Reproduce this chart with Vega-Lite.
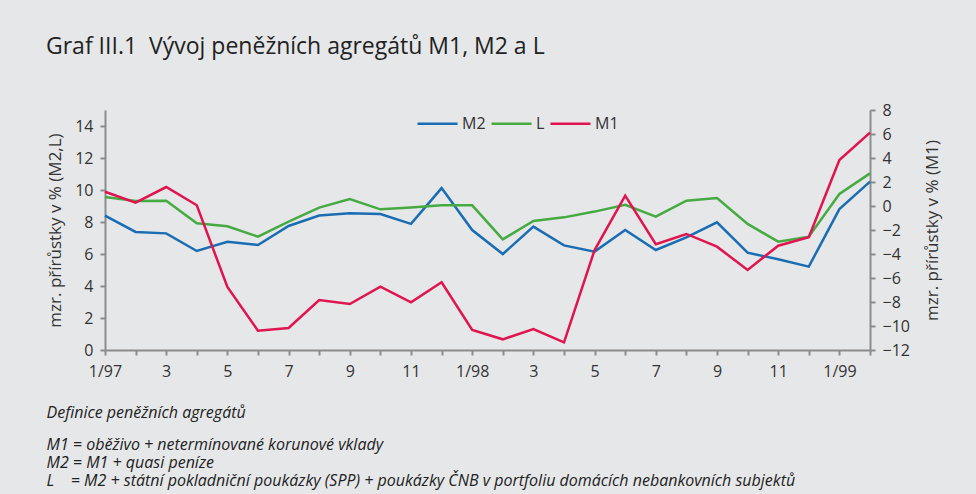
{
  "$schema": "https://vega.github.io/schema/vega-lite/v6.json",
  "width": 765,
  "height": 240,
  "autosize": "none",
  "padding": {"left": 105, "top": 110, "right": 106, "bottom": 144},
  "background": "#e6e7e9",
  "title": {
    "text": "Graf III.1\u00a0\u00a0Vývoj peněžních agregátů M1, M2 a L",
    "anchor": "start",
    "frame": "group",
    "dx": -59,
    "offset": 25,
    "baseline": "alphabetic",
    "fontSize": 23,
    "font": "Open Sans",
    "fontWeight": "normal",
    "color": "#222222"
  },
  "datasets": {
    "m2l": [
      {"i": 0, "series": "M2", "value": 8.4}, {"i": 1, "series": "M2", "value": 7.38}, {"i": 2, "series": "M2", "value": 7.29}, {"i": 3, "series": "M2", "value": 6.19},
      {"i": 4, "series": "M2", "value": 6.77}, {"i": 5, "series": "M2", "value": 6.56}, {"i": 6, "series": "M2", "value": 7.75}, {"i": 7, "series": "M2", "value": 8.4},
      {"i": 8, "series": "M2", "value": 8.54}, {"i": 9, "series": "M2", "value": 8.5}, {"i": 10, "series": "M2", "value": 7.88}, {"i": 11, "series": "M2", "value": 10.12},
      {"i": 12, "series": "M2", "value": 7.5}, {"i": 13, "series": "M2", "value": 6.0}, {"i": 14, "series": "M2", "value": 7.71}, {"i": 15, "series": "M2", "value": 6.54},
      {"i": 16, "series": "M2", "value": 6.15}, {"i": 17, "series": "M2", "value": 7.5}, {"i": 18, "series": "M2", "value": 6.25}, {"i": 19, "series": "M2", "value": 7.04},
      {"i": 20, "series": "M2", "value": 7.98}, {"i": 21, "series": "M2", "value": 6.08}, {"i": 22, "series": "M2", "value": 5.67}, {"i": 23, "series": "M2", "value": 5.21},
      {"i": 24, "series": "M2", "value": 8.81}, {"i": 25, "series": "M2", "value": 10.52},
      {"i": 0, "series": "L", "value": 9.56}, {"i": 1, "series": "L", "value": 9.31}, {"i": 2, "series": "L", "value": 9.33}, {"i": 3, "series": "L", "value": 7.92},
      {"i": 4, "series": "L", "value": 7.73}, {"i": 5, "series": "L", "value": 7.08}, {"i": 6, "series": "L", "value": 8.02}, {"i": 7, "series": "L", "value": 8.9},
      {"i": 8, "series": "L", "value": 9.44}, {"i": 9, "series": "L", "value": 8.79}, {"i": 10, "series": "L", "value": 8.9}, {"i": 11, "series": "L", "value": 9.04},
      {"i": 12, "series": "L", "value": 9.04}, {"i": 13, "series": "L", "value": 6.92}, {"i": 14, "series": "L", "value": 8.06}, {"i": 15, "series": "L", "value": 8.29},
      {"i": 16, "series": "L", "value": 8.65}, {"i": 17, "series": "L", "value": 9.08}, {"i": 18, "series": "L", "value": 8.33}, {"i": 19, "series": "L", "value": 9.33},
      {"i": 20, "series": "L", "value": 9.5}, {"i": 21, "series": "L", "value": 7.88}, {"i": 22, "series": "L", "value": 6.77}, {"i": 23, "series": "L", "value": 7.08},
      {"i": 24, "series": "L", "value": 9.75}, {"i": 25, "series": "L", "value": 11.04}
    ],
    "m1": [
      {"i": 0, "series": "M1", "value": 1.19}, {"i": 1, "series": "M1", "value": 0.28}, {"i": 2, "series": "M1", "value": 1.58}, {"i": 3, "series": "M1", "value": 0.06},
      {"i": 4, "series": "M1", "value": -6.75}, {"i": 5, "series": "M1", "value": -10.39}, {"i": 6, "series": "M1", "value": -10.17}, {"i": 7, "series": "M1", "value": -7.83},
      {"i": 8, "series": "M1", "value": -8.17}, {"i": 9, "series": "M1", "value": -6.72}, {"i": 10, "series": "M1", "value": -8.03}, {"i": 11, "series": "M1", "value": -6.36},
      {"i": 12, "series": "M1", "value": -10.33}, {"i": 13, "series": "M1", "value": -11.11}, {"i": 14, "series": "M1", "value": -10.25}, {"i": 15, "series": "M1", "value": -11.36},
      {"i": 16, "series": "M1", "value": -3.67}, {"i": 17, "series": "M1", "value": 0.86}, {"i": 18, "series": "M1", "value": -3.19}, {"i": 19, "series": "M1", "value": -2.33},
      {"i": 20, "series": "M1", "value": -3.39}, {"i": 21, "series": "M1", "value": -5.33}, {"i": 22, "series": "M1", "value": -3.31}, {"i": 23, "series": "M1", "value": -2.61},
      {"i": 24, "series": "M1", "value": 3.83}, {"i": 25, "series": "M1", "value": 6.11}
    ]
  },
  "config": {
    "view": {"stroke": null},
    "font": "Open Sans",
    "axis": {
      "domainColor": "#8c8c8c",
      "domainWidth": 2,
      "tickColor": "#8c8c8c",
      "tickWidth": 2,
      "tickSize": 5,
      "grid": false,
      "labelFont": "Open Sans",
      "labelFontSize": 16,
      "labelColor": "#333333",
      "labelPadding": 7,
      "titleFont": "Open Sans",
      "titleFontSize": 17,
      "titleFontWeight": "normal",
      "titleColor": "#333333"
    }
  },
  "encoding": {
    "color": {
      "field": "series",
      "type": "nominal",
      "scale": {"domain": ["M2", "L", "M1"], "range": ["#1a6db3", "#46aa42", "#e0144f"]},
      "legend": {
        "title": null,
        "orient": "none",
        "direction": "horizontal",
        "legendX": 311,
        "legendY": -8,
        "symbolType": "stroke",
        "symbolSize": 1600,
        "symbolStrokeWidth": 2.5,
        "labelFontSize": 16,
        "labelFont": "Open Sans",
        "labelColor": "#333333",
        "labelOffset": 3,
        "columnPadding": 0
      }
    }
  },
  "layer": [
    {
      "data": {"name": "m2l"},
      "mark": {"type": "line", "strokeWidth": 2.5},
      "encoding": {
        "x": {
          "field": "i",
          "type": "quantitative",
          "scale": {"domain": [0, 25], "nice": false, "zero": false},
          "axis": {
            "values": [0,1,2,3,4,5,6,7,8,9,10,11,12,13,14,15,16,17,18,19,20,21,22,23,24,25],
            "labelExpr": "['1/97','','3','','5','','7','','9','','11','','1/98','','3','','5','','7','','9','','11','','1/99',''][datum.value]",
            "labelFlush": false,
            "labelOverlap": false,
            "labelPadding": 8,
            "title": ["M1 = oběživo + netermínované korunové vklady", "M2 = M1 + quasi peníze", "L\u00a0\u00a0\u00a0\u00a0= M2 + státní pokladniční poukázky (SPP) + poukázky ČNB v portfoliu domácích nebankovních subjektů"],
            "titleAnchor": "start",
            "titleAlign": "left",
            "titleBaseline": "alphabetic",
            "titleX": -59,
            "titleY": 99,
            "titleFontSize": 16,
            "titleFontStyle": "italic",
            "titleLineHeight": 18,
            "titleColor": "#222222"
          }
        },
        "y": {
          "field": "value",
          "type": "quantitative",
          "scale": {"domain": [0, 15], "nice": false, "zero": false},
          "axis": {
            "values": [0, 2, 4, 6, 8, 10, 12, 14],
            "title": "mzr. přírůstky v % (M2,L)",
            "titlePadding": 10
          }
        }
      }
    },
    {
      "data": {"name": "m1"},
      "mark": {"type": "line", "strokeWidth": 2.5},
      "encoding": {
        "x": {
          "field": "i",
          "type": "quantitative",
          "axis": {
            "orient": "top",
            "domain": false,
            "ticks": false,
            "labels": false,
            "title": "Definice peněžních agregátů",
            "titleAnchor": "start",
            "titleAlign": "left",
            "titleBaseline": "alphabetic",
            "titleX": -59,
            "titleY": 307,
            "titleFontSize": 16,
            "titleFontStyle": "italic",
            "titleColor": "#222222"
          }
        },
        "y": {
          "field": "value",
          "type": "quantitative",
          "scale": {"domain": [-12, 8], "nice": false, "zero": false},
          "axis": {
            "orient": "right",
            "values": [-12, -10, -8, -6, -4, -2, 0, 2, 4, 6, 8],
            "title": "mzr. přírůstky v % (M1)",
            "titleAngle": 270,
            "titlePadding": 32
          }
        }
      }
    }
  ],
  "resolve": {"scale": {"y": "independent"}, "axis": {"y": "independent", "x": "independent"}}
}
